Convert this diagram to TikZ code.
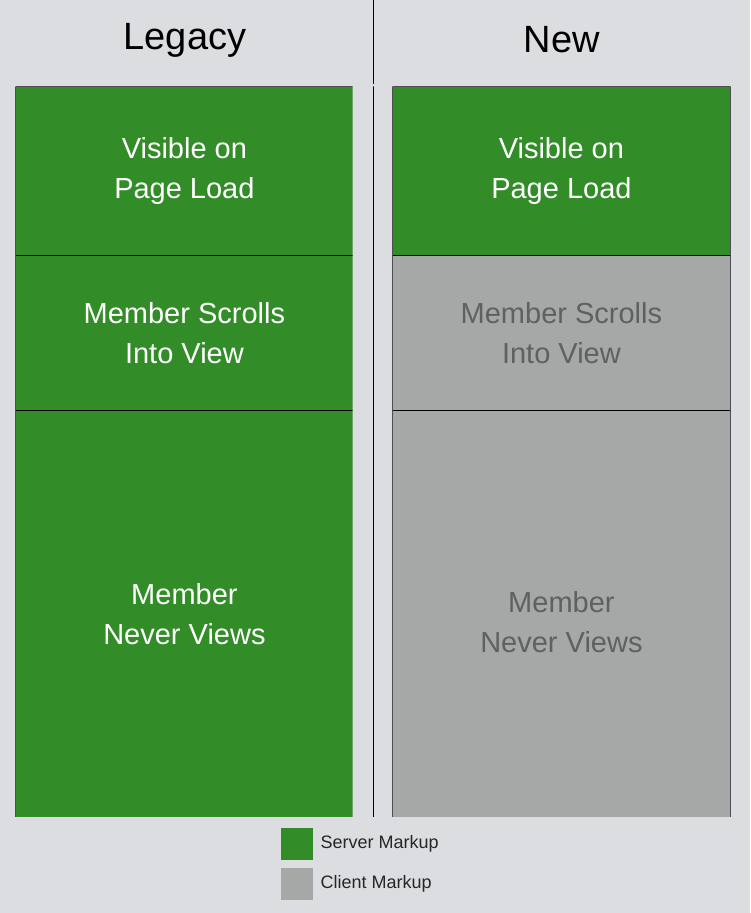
\documentclass[tikz,border=0pt]{standalone}
\usepackage{fontspec}
\setmainfont{Liberation Sans}
\definecolor{bg}{HTML}{DCDDE0}
\definecolor{grn}{HTML}{328D28}
\definecolor{gry}{HTML}{A5A8A6}
\definecolor{gtxt}{HTML}{5E6162}
\begin{document}
\begin{tikzpicture}[x=1pt,y=-1pt,
  box/.style={draw=black,line width=0.8pt,minimum width=338pt,anchor=north west,inner sep=0pt,align=center,font=\fontsize{29}{40}\selectfont},
  gbox/.style={box,fill=grn,text=white},
  cbox/.style={box,fill=gry,text=gtxt},
  title/.style={font=\fontsize{38}{44}\selectfont},
  leg/.style={font=\fontsize{18}{22}\selectfont,anchor=west,text=black!85}]
\fill[bg] (0,0) rectangle (750,913);
\useasboundingbox (0,0) rectangle (750,913);
\node[title] (tl) at (185,40) {Legacy};
\node[title] (tn) at (562,40) {New};
\coordinate (vt) at (373,0);
\coordinate (vb) at (373,820);
\draw[line width=1pt] (vt) -- (vb);
\node[gbox,minimum height=169pt] (l1) at (15,86) {Visible on\\Page Load};
\node[gbox,minimum height=155pt] (l2) at (15,255) {Member Scrolls\\Into View};
\node[gbox,minimum height=407pt] (l3) at (15,410) {Member\\Never Views};
\node[gbox,minimum height=169pt] (r1) at (392,86) {Visible on\\Page Load};
\node[cbox,minimum height=155pt] (r2) at (392,255) {Member Scrolls\\Into View};
\node[cbox,minimum height=407pt] (r3) at (392,410) {\\[-3pt]Member\\Never Views};
\fill[bg] (13,84) rectangle (15.4,820) (13,817) rectangle (735,820) (13,84) rectangle (735,86.4);
\fill[bg] (352.6,84) rectangle (354,820) (391,84) rectangle (392.4,820) (730.6,84) rectangle (735,820);
\node[fill=grn,minimum size=32pt,inner sep=0pt,anchor=north west] (sq1) at (281,828) {};
\node[fill=gry,minimum size=32pt,inner sep=0pt,anchor=north west] (sq2) at (281,868) {};
\node[leg] (t1) at (317,844) {Server Markup};
\node[leg] (t2) at (317,884) {Client Markup};
\end{tikzpicture}
\end{document}
